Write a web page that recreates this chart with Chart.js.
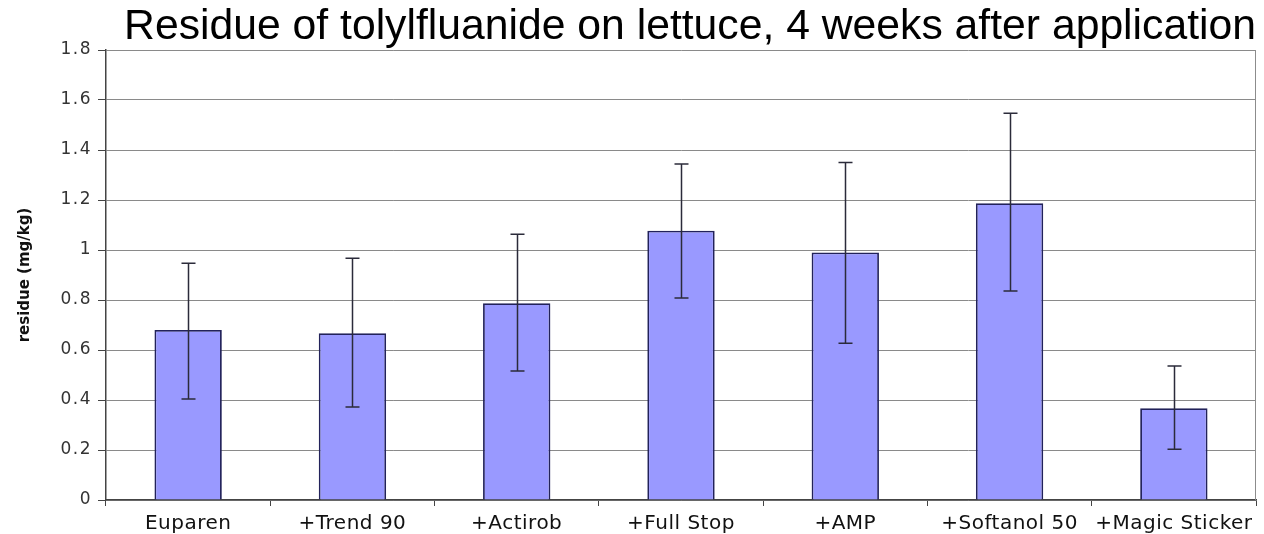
<!DOCTYPE html>
<html>
<head>
<meta charset="utf-8">
<script src="https://cdn.jsdelivr.net/npm/chart.js@4.4.1/dist/chart.umd.min.js"></script>
<style>
  html, body { margin: 0; padding: 0; background: #fff; }
  #wrap { width: 1264px; height: 534px; }
</style>
</head>
<body>
<div id="wrap"><canvas id="grafico" width="1264" height="534"></canvas></div>
<script>
// values
const categories = ['Euparen', '+Trend 90', '+Actirob', '+Full Stop', '+AMP', '+Softanol 50', '+Magic Sticker'];
const residue = [0.68, 0.667, 0.787, 1.077, 0.99, 1.187, 0.367];
const errHigh = [0.947, 0.967, 1.063, 1.344, 1.35, 1.547, 0.536];
const errLow = [0.404, 0.372, 0.516, 0.808, 0.627, 0.836, 0.203];
const yTickLabels = ['0', '0.2', '0.4', '0.6', '0.8', '1', '1.2', '1.4', '1.6', '1.8'];

// letter spacing per scale, to get the wide look of the axis text
const spacing = { x: '0.5px', y: '1.5px' };
const titleSpacing = '0px';

const spacingPlugin = {
    id: 'spacing',
    afterUpdate(chart) {
        Object.values(chart.scales).forEach(s => {
            if (s._spaced) return;
            const drawLabels = s.drawLabels;
            const drawTitle = s.drawTitle;
            s.drawLabels = function(area) {
                chart.ctx.save();
                chart.ctx.letterSpacing = spacing[s.id] || '0px';
                drawLabels.call(s, area);
                chart.ctx.restore();
            };
            s.drawTitle = function(area) {
                chart.ctx.save();
                chart.ctx.letterSpacing = titleSpacing;
                drawTitle.call(s, area);
                chart.ctx.restore();
            };
            s._spaced = true;
        });
    }
};

const frameAndErrors = {
    id: 'frameAndErrors',
    beforeDatasetsDraw(chart) {
        const { ctx, chartArea } = chart;
        ctx.save();
        ctx.strokeStyle = '#8c8c8c';
        ctx.lineWidth = 1;
        ctx.beginPath();
        ctx.moveTo(chartArea.right - 0.5, chartArea.top);
        ctx.lineTo(chartArea.right - 0.5, chartArea.bottom);
        ctx.stroke();
        ctx.restore();
    },
    afterDatasetsDraw(chart) {
        const { ctx } = chart;
        const x = chart.scales.x, y = chart.scales.y;
        ctx.save();
        ctx.strokeStyle = '#2b2b3a';
        ctx.lineWidth = 1.5;
        categories.forEach((c, i) => {
            const px = Math.round(x.getPixelForValue(i)) + 0.5;
            const top = y.getPixelForValue(errHigh[i]);
            const bot = y.getPixelForValue(errLow[i]);
            ctx.beginPath();
            ctx.moveTo(px, top); ctx.lineTo(px, bot);
            ctx.moveTo(px - 7, top); ctx.lineTo(px + 7, top);
            ctx.moveTo(px - 7, bot); ctx.lineTo(px + 7, bot);
            ctx.stroke();
        });
        ctx.restore();
    }
};

const ctx = document.getElementById('grafico').getContext('2d');
new Chart(ctx, {
    type: 'bar',
    data: {
        labels: categories,
        datasets: [{
            label: 'residue',
            data: residue,
            backgroundColor: '#9999ff',
            borderColor: '#22225a',
            borderWidth: 1.8,
            categoryPercentage: 1,
            barPercentage: 0.41
        }]
    },
    options: {
        responsive: false,
        animation: false,
        events: [],
        layout: { padding: { left: 0, right: 8, top: 0, bottom: 0 } },
        plugins: {
            legend: { display: false },
            tooltip: { enabled: false },
            title: {
                display: true,
                text: 'Residue of tolylfluanide on lettuce, 4 weeks after application',
                align: 'end',
                color: '#000',
                font: { family: '"Liberation Sans", Arial, sans-serif', size: 42.7, weight: 'normal', lineHeight: 1 },
                padding: { top: 6, bottom: 1.3 }
            }
        },
        scales: {
            x: {
                afterFit(scale) { scale.height = 34; },
                grid: { display: true, drawOnChartArea: false, drawTicks: true, tickLength: 6, color: '#444' },
                border: { color: '#444', width: 1.5 },
                ticks: {
                    autoSkip: false, maxRotation: 0, padding: 6,
                    color: '#111',
                    font: { family: '"DejaVu Sans", sans-serif', size: 20 }
                }
            },
            y: {
                min: 0,
                max: 1.8,
                afterFit(scale) { scale.width = 106; },
                grid: { color: '#8a8a8a', lineWidth: 1, tickLength: 8, tickColor: '#444' },
                border: { color: '#444', width: 1.5 },
                ticks: {
                    stepSize: 0.2,
                    padding: 6,
                    color: '#333',
                    font: { family: '"DejaVu Sans", sans-serif', size: 17 },
                    callback: (v, i) => yTickLabels[i]
                },
                title: {
                    display: true,
                    text: 'residue (mg/kg)',
                    color: '#111',
                    font: { family: '"DejaVu Sans", sans-serif', size: 15, weight: 'bold' },
                    padding: { top: 16, bottom: 0 }
                }
            }
        }
    },
    plugins: [spacingPlugin, frameAndErrors]
});
</script>
</body>
</html>
